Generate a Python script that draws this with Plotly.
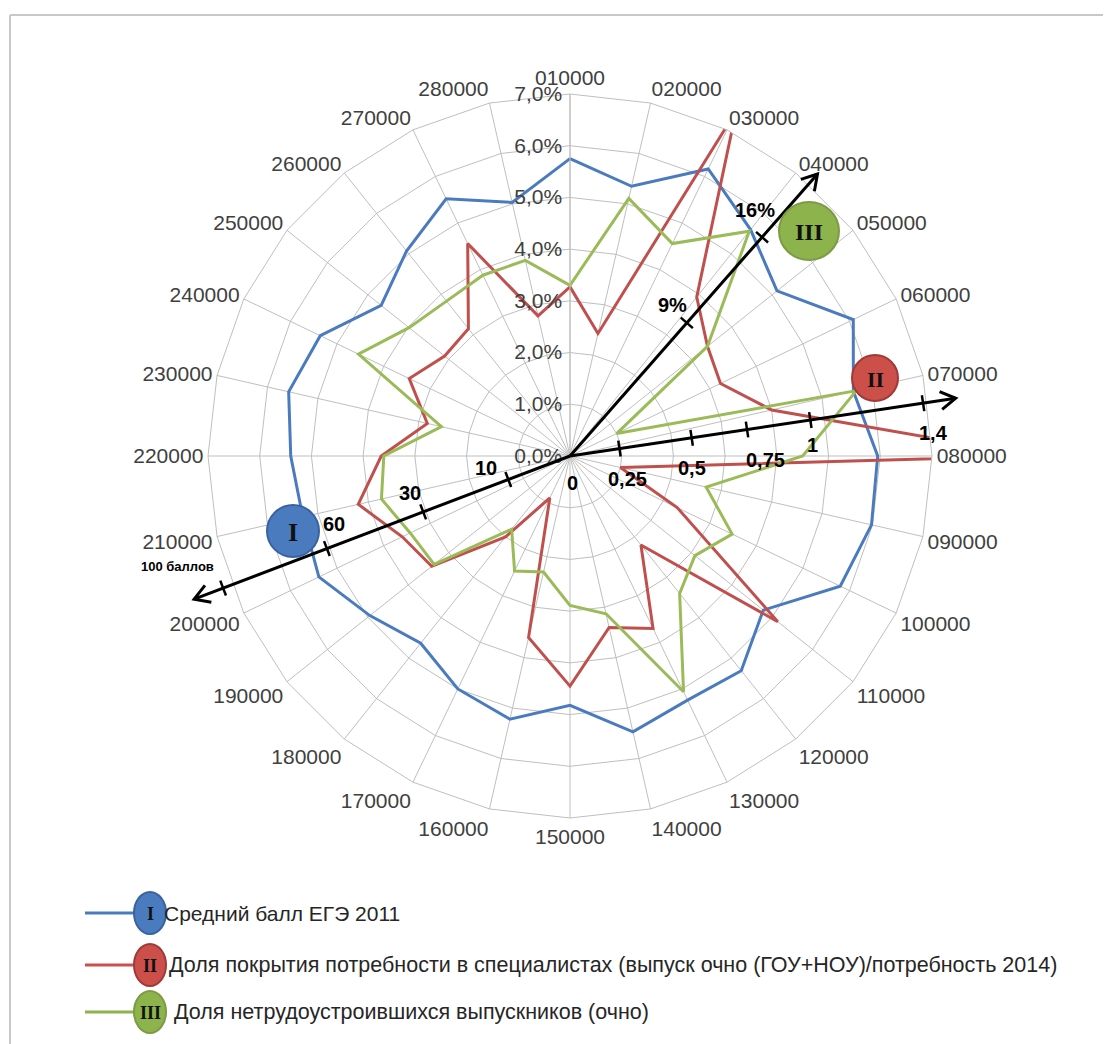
import plotly.graph_objects as go

# ---------------- data ----------------
categories = ["010000", "020000", "030000", "040000", "050000", "060000", "070000",
              "080000", "090000", "100000", "110000", "120000", "130000", "140000",
              "150000", "160000", "170000", "180000", "190000", "200000", "210000",
              "220000", "230000", "240000", "250000", "260000", "270000", "280000"]

ege_score = [5.75, 5.35, 6.16, 5.6, 5.12, 6.08, 5.62, 5.95, 5.98, 5.80, 4.78, 5.31, 5.24, 5.47,
             4.82, 5.22, 5.0, 4.63, 4.95, 5.39, 5.3, 5.40, 5.58, 5.36, 4.67, 5.07, 5.52, 5.03]
coverage = [3.27, 2.43, 7.4, 3.93, 3.4, 3.23, 4.0, 9.0, 1.0, 2.3, 5.14, 2.2, 3.7, 3.4,
            4.45, 3.6, 0.9, 2.0, 3.42, 3.6, 4.2, 3.65, 2.83, 3.45, 3.10, 3.15, 4.56, 2.78]
unemployed = [3.3, 5.11, 4.56, 5.56, 3.4, 1.0, 5.68, 4.5, 2.7, 3.48, 3.09, 3.4, 5.06, 3.13,
              2.89, 2.3, 2.47, 1.81, 3.36, 3.43, 3.74, 3.6, 2.55, 4.54, 3.98, 3.83, 3.88, 3.88]

radial_ticks = [0, 1, 2, 3, 4, 5, 6, 7]
radial_ticktext = ["0,0%", "1,0%", "2,0%", "3,0%", "4,0%", "5,0%", "6,0%", "7,0%"]

series_names = ["Средний балл ЕГЭ 2011",
                "Доля покрытия потребности в специалистах (выпуск очно (ГОУ+НОУ)/потребность 2014)",
                "Доля нетрудоустроившихся выпускников (очно)"]
series_numerals = ["I", "II", "III"]

arrow1_ticks = ["0", "10", "30", "60", "100 баллов"]
arrow2_ticks = ["0,25", "0,5", "0,75", "1", "1,4"]
arrow3_ticks = ["9%", "16%"]

# ---------------- style ----------------
OFF = 8                      # default page body margin
W, H = 1111 - OFF, 1044 - OFF
BLUE, RED, GREEN = "#4A7BBF", "#C0504D", "#9BBB59"
BLUE_D, RED_D, GREEN_D = "#3A62A0", "#9E3B38", "#7E9A44"
GRID = "#BFBFBF"
cx, cy, R = 570, 456, 362    # page pixels
FONT = "Liberation Sans"


def P(x, y):
    return (x - OFF) / W, 1 - (y - OFF) / H


fig = go.Figure()
for vals, col, name in [(ege_score, BLUE, series_names[0]),
                        (coverage, RED, series_names[1]),
                        (unemployed, GREEN, series_names[2])]:
    fig.add_trace(go.Scatterpolar(
        r=vals + vals[:1], theta=categories + categories[:1], mode="lines",
        line=dict(color=col, width=3), name=name, showlegend=False))

x0p, y1p = P(cx - R, cy - R)
x1p, y0p = P(cx + R, cy + R)
fig.update_layout(
    width=W, height=H,
    margin=dict(l=0, r=0, t=0, b=0),
    paper_bgcolor="white",
    polar=dict(
        domain=dict(x=[x0p, x1p], y=[y0p, y1p]),
        bgcolor="white",
        gridshape="linear",
        angularaxis=dict(type="category", categoryarray=categories, direction="clockwise",
                         rotation=90, showline=True, linecolor=GRID, linewidth=1,
                         gridcolor=GRID, gridwidth=1, ticks="",
                         tickfont=dict(family=FONT, size=21, color="#404040")),
        radialaxis=dict(range=[0, 7], tickvals=radial_ticks, ticktext=radial_ticktext,
                        angle=90, tickangle=90, side="counterclockwise",
                        showline=True, linecolor=GRID, gridcolor=GRID, gridwidth=1, ticks="",
                        tickfont=dict(family=FONT, size=21, color="#404040")),
    ),
)

shapes = []
annots = []


def line_px(x0, y0, x1, y1, color="black", width=3):
    a = P(x0, y0)
    b = P(x1, y1)
    shapes.append(dict(type="line", xref="paper", yref="paper", x0=a[0], y0=a[1], x1=b[0], y1=b[1],
                       line=dict(color=color, width=width)))


def text_px(x, y, t, size=20, bold=True, color="black", family=FONT, xanchor="center"):
    p = P(x, y)
    annots.append(dict(x=p[0], y=p[1], xref="paper", yref="paper", text=("<b>%s</b>" % t) if bold else t,
                       showarrow=False, xanchor=xanchor, yanchor="middle",
                       font=dict(family=family, size=size, color=color)))


def axis_arrow(sx, sy, ux, uy, length, tick_s):
    tx, ty = sx + ux * length, sy + uy * length
    line_px(sx, sy, tx, ty)
    nx, ny = -uy, ux
    hl, hw = 15, 9
    ax_, ay_ = tx - ux * hl + nx * hw, ty - uy * hl + ny * hw
    bx_, by_ = tx - ux * hl - nx * hw, ty - uy * hl - ny * hw
    pa, pt, pb = P(ax_, ay_), P(tx, ty), P(bx_, by_)
    shapes.append(dict(type="path", xref="paper", yref="paper",
                       path="M %f %f L %f %f L %f %f" % (pa[0], pa[1], pt[0], pt[1], pb[0], pb[1]),
                       line=dict(color="black", width=3)))
    for s in tick_s:
        px_, py_ = sx + ux * s, sy + uy * s
        line_px(px_ - nx * 8, py_ - ny * 8, px_ + nx * 8, py_ + ny * 8, width=2.5)


# Arrow I (scores)
axis_arrow(cx, cy, -0.935, 0.356, 402, [66, 157, 260, 371])
text_px(572, 483, arrow1_ticks[0])
text_px(486, 468, arrow1_ticks[1])
text_px(410, 493, arrow1_ticks[2])
text_px(334, 524, arrow1_ticks[3])
text_px(177, 566, arrow1_ticks[4], size=13)

# Arrow II (coverage)
axis_arrow(cx, cy, 0.989, -0.148, 390, [50, 123, 179, 243, 357])
text_px(627, 479, arrow2_ticks[0])
text_px(692, 468, arrow2_ticks[1])
text_px(765, 460, arrow2_ticks[2])
text_px(812, 445, arrow2_ticks[3])
text_px(933, 433, arrow2_ticks[4])

# Arrow III (unemployed)
axis_arrow(cx, cy, 0.660, -0.752, 375, [177, 291])
text_px(672, 305, arrow3_ticks[0])
text_px(755, 210, arrow3_ticks[1])


def badge(x, y, rx, ry, fill, edge, label, size):
    a = P(x - rx, y + ry)
    b = P(x + rx, y - ry)
    shapes.append(dict(type="circle", xref="paper", yref="paper", x0=a[0], y0=a[1], x1=b[0], y1=b[1],
                       fillcolor=fill, line=dict(color=edge, width=2)))
    text_px(x, y + 1, label, size=size, family="Liberation Serif", color="#111111")


badge(293, 531, 26, 26, BLUE, BLUE_D, series_numerals[0], 26)
badge(875, 378, 23, 23, "#CC4F4A", RED_D, series_numerals[1], 22)
badge(809, 231, 30, 29, "#8DB34C", GREEN_D, series_numerals[2], 24)

# custom legend
leg_y = [913, 965, 1012]
leg_cols = [(BLUE, BLUE_D), ("#CC4F4A", RED_D), ("#8DB34C", GREEN_D)]
leg_text_x = [162, 167, 172]
leg_size = [21, 21.5, 21.5]
for i in range(3):
    y = leg_y[i]
    line_px(85, y, 140, y, color=leg_cols[i][0], width=3)
    badge(150, y, 16, 21, leg_cols[i][0], leg_cols[i][1], series_numerals[i], 18)
    text_px(leg_text_x[i], y, series_names[i], size=leg_size[i], bold=False, color="#262626",
            xanchor="left")

# frame
line_px(10, 15, 1111, 15, color="#C8C8C8", width=2)
line_px(10, 15, 10, 1044, color="#C8C8C8", width=2)

fig.update_layout(shapes=shapes, annotations=annots)
fig.write_html("out.html")
